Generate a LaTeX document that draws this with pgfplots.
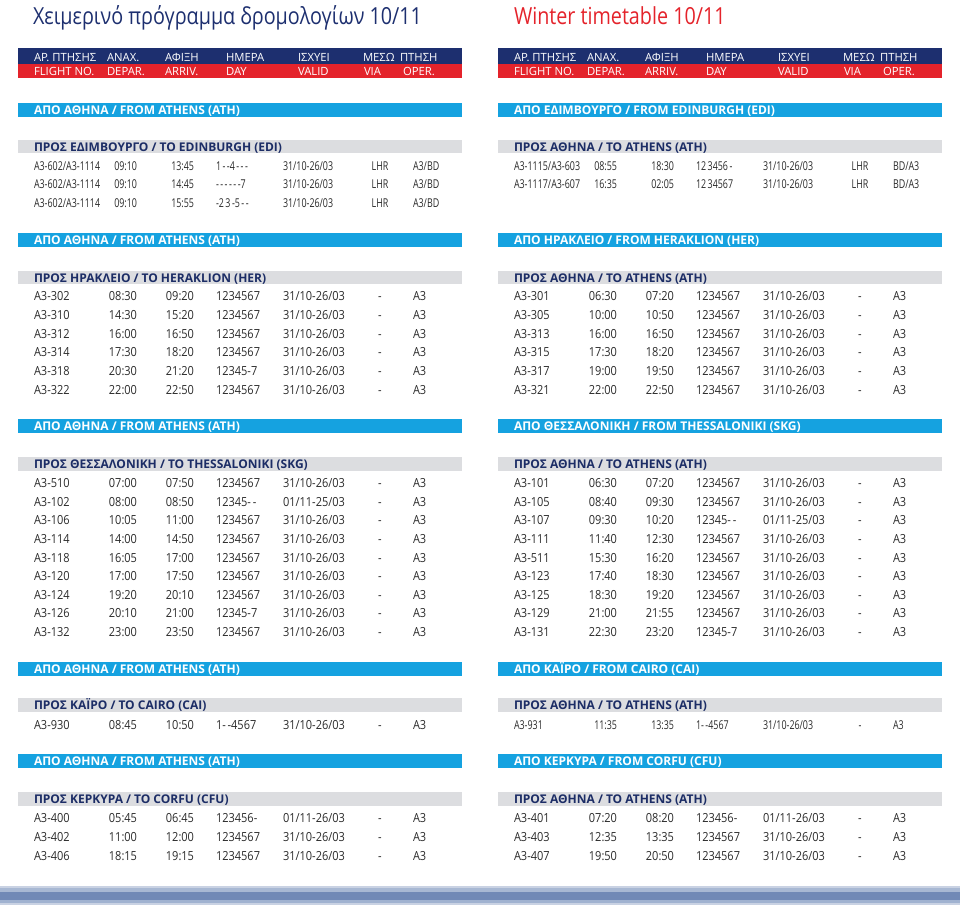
\documentclass[border=0pt]{standalone}
\usepackage{pgfplots}
\pgfplotsset{compat=1.18}
\usepackage{fontspec}
\setmainfont{Open Sans}
\definecolor{navy}{HTML}{1D2F6F}
\definecolor{ared}{HTML}{E4232B}
\definecolor{abl}{HTML}{15A2E0}
\definecolor{agr}{HTML}{DCDDE0}
\definecolor{txt}{HTML}{2A2A2A}
\definecolor{gnavy}{HTML}{1C2D66}
\definecolor{b1}{HTML}{C9D2E3}
\definecolor{b2}{HTML}{A8B8D3}
\definecolor{b3}{HTML}{7189B6}
\definecolor{b4}{HTML}{A0B2D0}
\tikzset{every node/.append style={inner sep=0pt,outer sep=0pt}}
\newcommand\bodyfont{\fontsize{12.5}{14}\selectfont}
\newcommand\cfont{\fontsize{12.2}{14}\selectfont}
\newcommand\hfont{\fontsize{11.3}{13}\selectfont}
\newcommand\secbar[4]{%
 \fill[abl] (axis cs:18,#1) rectangle (axis cs:462,#2);
 \node[anchor=base west,text=white,font=\bfseries\fontsize{12}{14}\selectfont] at (axis cs:34,#3) {#4};}
\newcommand\subbar[4]{%
 \fill[agr] (axis cs:18,#1) rectangle (axis cs:462,#2);
 \node[anchor=base west,text=gnavy,font=\bfseries\fontsize{12}{14}\selectfont] at (axis cs:34,#3) {#4};}
\newcommand\row[8]{%
 \node[anchor=base west,text=txt,font=\bodyfont,xscale=0.88] at (axis cs:34,#1) {#2};
 \node[anchor=base east,text=txt,font=\bodyfont,xscale=0.88] at (axis cs:137,#1) {#3};
 \node[anchor=base east,text=txt,font=\bodyfont,xscale=0.88] at (axis cs:194,#1) {#4};
 \node[anchor=base west,text=txt,font=\bodyfont,xscale=0.88] at (axis cs:216,#1) {#5};
 \node[anchor=base west,text=txt,font=\bodyfont,xscale=0.88] at (axis cs:283,#1) {#6};
 \node[anchor=base,text=txt,font=\bodyfont,xscale=0.88] at (axis cs:380,#1) {#7};
 \node[anchor=base west,text=txt,font=\bodyfont,xscale=0.88] at (axis cs:413,#1) {#8};}
\newcommand\crow[8]{%
 \node[anchor=base west,text=txt,font=\cfont,xscale=0.73] at (axis cs:34,#1) {#2};
 \node[anchor=base east,text=txt,font=\cfont,xscale=0.73] at (axis cs:137,#1) {#3};
 \node[anchor=base east,text=txt,font=\cfont,xscale=0.73] at (axis cs:194,#1) {#4};
 \node[anchor=base west,text=txt,font=\cfont,xscale=0.73] at (axis cs:216,#1) {#5};
 \node[anchor=base west,text=txt,font=\cfont,xscale=0.73] at (axis cs:283,#1) {#6};
 \node[anchor=base,text=txt,font=\cfont,xscale=0.73] at (axis cs:380,#1) {#7};
 \node[anchor=base west,text=txt,font=\cfont,xscale=0.73] at (axis cs:413,#1) {#8};}
\newcommand\headers{%
 \fill[navy] (axis cs:18,48) rectangle (axis cs:462,63.5);
 \fill[ared] (axis cs:18,63.5) rectangle (axis cs:462,77.5);
 \node[anchor=base west,text=white,font=\hfont] at (axis cs:34,61) {ΑΡ. ΠΤΗΣΗΣ};
 \node[anchor=base west,text=white,font=\hfont] at (axis cs:107,61) {ΑΝΑΧ.};
 \node[anchor=base west,text=white,font=\hfont] at (axis cs:165,61) {ΑΦΙΞΗ};
 \node[anchor=base west,text=white,font=\hfont] at (axis cs:226,61) {ΗΜΕΡΑ};
 \node[anchor=base west,text=white,font=\hfont] at (axis cs:298,61) {ΙΣΧΥΕΙ};
 \node[anchor=base west,text=white,font=\hfont] at (axis cs:363,61) {ΜΕΣΩ};
 \node[anchor=base west,text=white,font=\hfont] at (axis cs:400,61) {ΠΤΗΣΗ};
 \node[anchor=base west,text=white,font=\hfont] at (axis cs:34,75) {FLIGHT NO.};
 \node[anchor=base west,text=white,font=\hfont] at (axis cs:107,75) {DEPAR.};
 \node[anchor=base west,text=white,font=\hfont] at (axis cs:165,75) {ARRIV.};
 \node[anchor=base west,text=white,font=\hfont] at (axis cs:226,75) {DAY};
 \node[anchor=base west,text=white,font=\hfont] at (axis cs:298,75) {VALID};
 \node[anchor=base west,text=white,font=\hfont] at (axis cs:364,75) {VIA};
 \node[anchor=base west,text=white,font=\hfont] at (axis cs:403,75) {OPER.};
 \fill[b1] (axis cs:0,886) rectangle (axis cs:480,888);
 \fill[b2] (axis cs:0,888) rectangle (axis cs:480,892);
 \fill[b3] (axis cs:0,892) rectangle (axis cs:480,900);
 \fill[b4] (axis cs:0,900) rectangle (axis cs:480,903);
 \fill[b1] (axis cs:0,903) rectangle (axis cs:480,905);
 \path (axis cs:0,0) rectangle (axis cs:480,905);}
\pgfplotsset{pan/.style={x=1pt,y=1pt,xmin=0,xmax=480,ymin=0,ymax=905,y dir=reverse,hide axis,clip=false}}
\begin{document}
\begin{tikzpicture}
\begin{axis}[pan,at={(0pt,0pt)}]
\headers
\node[anchor=base west,text=navy,font=\fontsize{23.5}{28}\selectfont,xscale=0.84] at (axis cs:33,24) {Χειμερινό πρόγραμμα δρομολογίων 10/11};
\secbar{103}{117}{114}{ΑΠΟ ΑΘΗΝΑ / FROM ATHENS (ATH)}
\subbar{140}{153}{151}{ΠΡΟΣ ΕΔΙΜΒΟΥΡΓΟ / ΤΟ EDINBURGH (EDI)}
\crow{170}{A3-602/A3-1114}{09:10}{13:45}{1\,-\,-4\,-\,-\,-}{31/10-26/03}{LHR}{A3/BD}
\crow{188.5}{A3-602/A3-1114}{09:10}{14:45}{-\,-\,-\,-\,-\,-7}{31/10-26/03}{LHR}{A3/BD}
\crow{207}{A3-602/A3-1114}{09:10}{15:55}{-2\,3\,-5\,-\,-}{31/10-26/03}{LHR}{A3/BD}
\secbar{233}{247}{244}{ΑΠΟ ΑΘΗΝΑ / FROM ATHENS (ATH)}
\subbar{271}{284}{282}{ΠΡΟΣ ΗΡΑΚΛΕΙΟ / ΤΟ HERAKLION (HER)}
\row{300.5}{A3-302}{08:30}{09:20}{1234567}{31/10-26/03}{-}{A3}
\row{319.3}{A3-310}{14:30}{15:20}{1234567}{31/10-26/03}{-}{A3}
\row{338}{A3-312}{16:00}{16:50}{1234567}{31/10-26/03}{-}{A3}
\row{356.8}{A3-314}{17:30}{18:20}{1234567}{31/10-26/03}{-}{A3}
\row{375.5}{A3-318}{20:30}{21:20}{12345-7}{31/10-26/03}{-}{A3}
\row{394.3}{A3-322}{22:00}{22:50}{1234567}{31/10-26/03}{-}{A3}
\secbar{419}{433}{430}{ΑΠΟ ΑΘΗΝΑ / FROM ATHENS (ATH)}
\subbar{457}{471}{468.5}{ΠΡΟΣ ΘΕΣΣΑΛΟΝΙΚΗ / ΤΟ THESSALONIKI (SKG)}
\row{487.5}{A3-510}{07:00}{07:50}{1234567}{31/10-26/03}{-}{A3}
\row{506.1}{A3-102}{08:00}{08:50}{12345-\,-}{01/11-25/03}{-}{A3}
\row{524.8}{A3-106}{10:05}{11:00}{1234567}{31/10-26/03}{-}{A3}
\row{543.4}{A3-114}{14:00}{14:50}{1234567}{31/10-26/03}{-}{A3}
\row{562}{A3-118}{16:05}{17:00}{1234567}{31/10-26/03}{-}{A3}
\row{580.6}{A3-120}{17:00}{17:50}{1234567}{31/10-26/03}{-}{A3}
\row{599.3}{A3-124}{19:20}{20:10}{1234567}{31/10-26/03}{-}{A3}
\row{617.9}{A3-126}{20:10}{21:00}{12345-7}{31/10-26/03}{-}{A3}
\row{636.5}{A3-132}{23:00}{23:50}{1234567}{31/10-26/03}{-}{A3}
\secbar{662}{676}{673}{ΑΠΟ ΑΘΗΝΑ / FROM ATHENS (ATH)}
\subbar{698}{712}{709.5}{ΠΡΟΣ ΚΑΪΡΟ / ΤΟ CAIRO (CAI)}
\row{729.5}{A3-930}{08:45}{10:50}{1-\,-4567}{31/10-26/03}{-}{A3}
\secbar{754}{768}{765}{ΑΠΟ ΑΘΗΝΑ / FROM ATHENS (ATH)}
\subbar{792}{806}{803.5}{ΠΡΟΣ ΚΕΡΚΥΡΑ / ΤΟ CORFU (CFU)}
\row{822.5}{A3-400}{05:45}{06:45}{123456-}{01/11-26/03}{-}{A3}
\row{841.5}{A3-402}{11:00}{12:00}{1234567}{31/10-26/03}{-}{A3}
\row{860.5}{A3-406}{18:15}{19:15}{1234567}{31/10-26/03}{-}{A3}
\end{axis}
\begin{axis}[pan,at={(480pt,0pt)}]
\headers
\node[anchor=base west,text=ared,font=\fontsize{23.5}{28}\selectfont,xscale=0.84] at (axis cs:34,24) {Winter timetable 10/11};
\secbar{103}{117}{114}{ΑΠΟ ΕΔΙΜΒΟΥΡΓΟ / FROM EDINBURGH (EDI)}
\subbar{140}{153}{151}{ΠΡΟΣ ΑΘΗΝΑ / ΤΟ ATHENS (ATH)}
\crow{170}{A3-1115/A3-603}{08:55}{18:30}{12\,3456\,-}{31/10-26/03}{LHR}{BD/A3}
\crow{188.5}{A3-1117/A3-607}{16:35}{02:05}{12\,34567}{31/10-26/03}{LHR}{BD/A3}
\secbar{233}{247}{244}{ΑΠΟ ΗΡΑΚΛΕΙΟ / FROM HERAKLION (HER)}
\subbar{271}{284}{282}{ΠΡΟΣ ΑΘΗΝΑ / ΤΟ ATHENS (ATH)}
\row{300.5}{A3-301}{06:30}{07:20}{1234567}{31/10-26/03}{-}{A3}
\row{319.3}{A3-305}{10:00}{10:50}{1234567}{31/10-26/03}{-}{A3}
\row{338}{A3-313}{16:00}{16:50}{1234567}{31/10-26/03}{-}{A3}
\row{356.8}{A3-315}{17:30}{18:20}{1234567}{31/10-26/03}{-}{A3}
\row{375.5}{A3-317}{19:00}{19:50}{1234567}{31/10-26/03}{-}{A3}
\row{394.3}{A3-321}{22:00}{22:50}{1234567}{31/10-26/03}{-}{A3}
\secbar{419}{433}{430}{ΑΠΟ ΘΕΣΣΑΛΟΝΙΚΗ / FROM THESSALONIKI (SKG)}
\subbar{457}{471}{468.5}{ΠΡΟΣ ΑΘΗΝΑ / ΤΟ ATHENS (ATH)}
\row{487.5}{A3-101}{06:30}{07:20}{1234567}{31/10-26/03}{-}{A3}
\row{506.1}{A3-105}{08:40}{09:30}{1234567}{31/10-26/03}{-}{A3}
\row{524.8}{A3-107}{09:30}{10:20}{12345-\,-}{01/11-25/03}{-}{A3}
\row{543.4}{A3-111}{11:40}{12:30}{1234567}{31/10-26/03}{-}{A3}
\row{562}{A3-511}{15:30}{16:20}{1234567}{31/10-26/03}{-}{A3}
\row{580.6}{A3-123}{17:40}{18:30}{1234567}{31/10-26/03}{-}{A3}
\row{599.3}{A3-125}{18:30}{19:20}{1234567}{31/10-26/03}{-}{A3}
\row{617.9}{A3-129}{21:00}{21:55}{1234567}{31/10-26/03}{-}{A3}
\row{636.5}{A3-131}{22:30}{23:20}{12345-7}{31/10-26/03}{-}{A3}
\secbar{662}{676}{673}{ΑΠΟ ΚΑΪΡΟ / FROM CAIRO (CAI)}
\subbar{698}{712}{709.5}{ΠΡΟΣ ΑΘΗΝΑ / ΤΟ ATHENS (ATH)}
\crow{729.5}{A3-931}{11:35}{13:35}{1-\,-4567}{31/10-26/03}{-}{A3}
\secbar{754}{768}{765}{ΑΠΟ ΚΕΡΚΥΡΑ / FROM CORFU (CFU)}
\subbar{792}{806}{803.5}{ΠΡΟΣ ΑΘΗΝΑ / ΤΟ ATHENS (ATH)}
\row{822.5}{A3-401}{07:20}{08:20}{123456-}{01/11-26/03}{-}{A3}
\row{841.5}{A3-403}{12:35}{13:35}{1234567}{31/10-26/03}{-}{A3}
\row{860.5}{A3-407}{19:50}{20:50}{1234567}{31/10-26/03}{-}{A3}
\end{axis}
\end{tikzpicture}
\end{document}
